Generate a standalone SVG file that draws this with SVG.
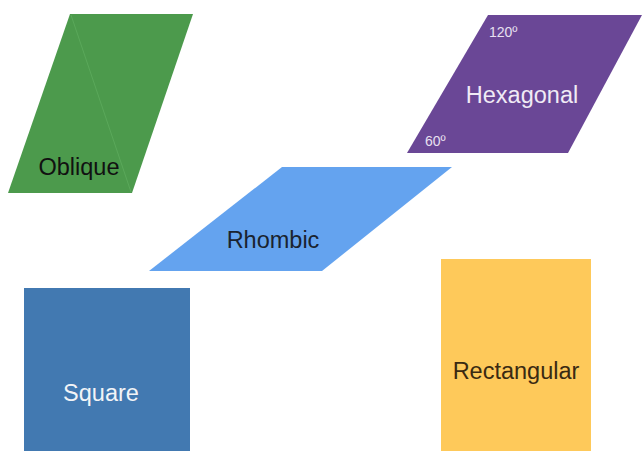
<svg xmlns="http://www.w3.org/2000/svg" width="642" height="451" viewBox="0 0 642 451">
<style>
.lbl{font-family:"Liberation Sans",Arial,sans-serif;font-size:23.5px;text-anchor:middle}
.sm{font-family:"Liberation Sans",Arial,sans-serif;font-size:14px;fill:#e8e0f0}
</style>
<rect width="642" height="451" fill="#ffffff"/>
<g id="oblique">
<polygon points="70,14 193,14 132,193 8,193" fill="#4c9a4c"/>
<line x1="71" y1="15" x2="131" y2="192" stroke="#5aa85a" stroke-width="1"/>
<text class="lbl" x="79" y="175" fill="#111">Oblique</text>
</g>
<g id="hexagonal">
<polygon points="488,15 642,15 568,153 407,153" fill="#6a4796"/>
<text class="lbl" x="522" y="103" fill="#f0ebf5">Hexagonal</text>
<text class="sm" x="489" y="37">120º</text>
<text class="sm" x="425" y="146">60º</text>
</g>
<g id="rhombic">
<polygon points="282,167 452,167 322,271 149,271" fill="#64a3ef"/>
<text class="lbl" x="273" y="248" fill="#1a2330">Rhombic</text>
</g>
<g id="square">
<rect x="24" y="288" width="166" height="163" fill="#4279b1"/>
<text class="lbl" x="101" y="401" fill="#f2f4f7">Square</text>
</g>
<g id="rectangular">
<rect x="441" y="259" width="150" height="192" fill="#fec95a"/>
<text class="lbl" x="516" y="379" fill="#3a2a12">Rectangular</text>
</g>
<g id="connectors"></g>
</svg>
